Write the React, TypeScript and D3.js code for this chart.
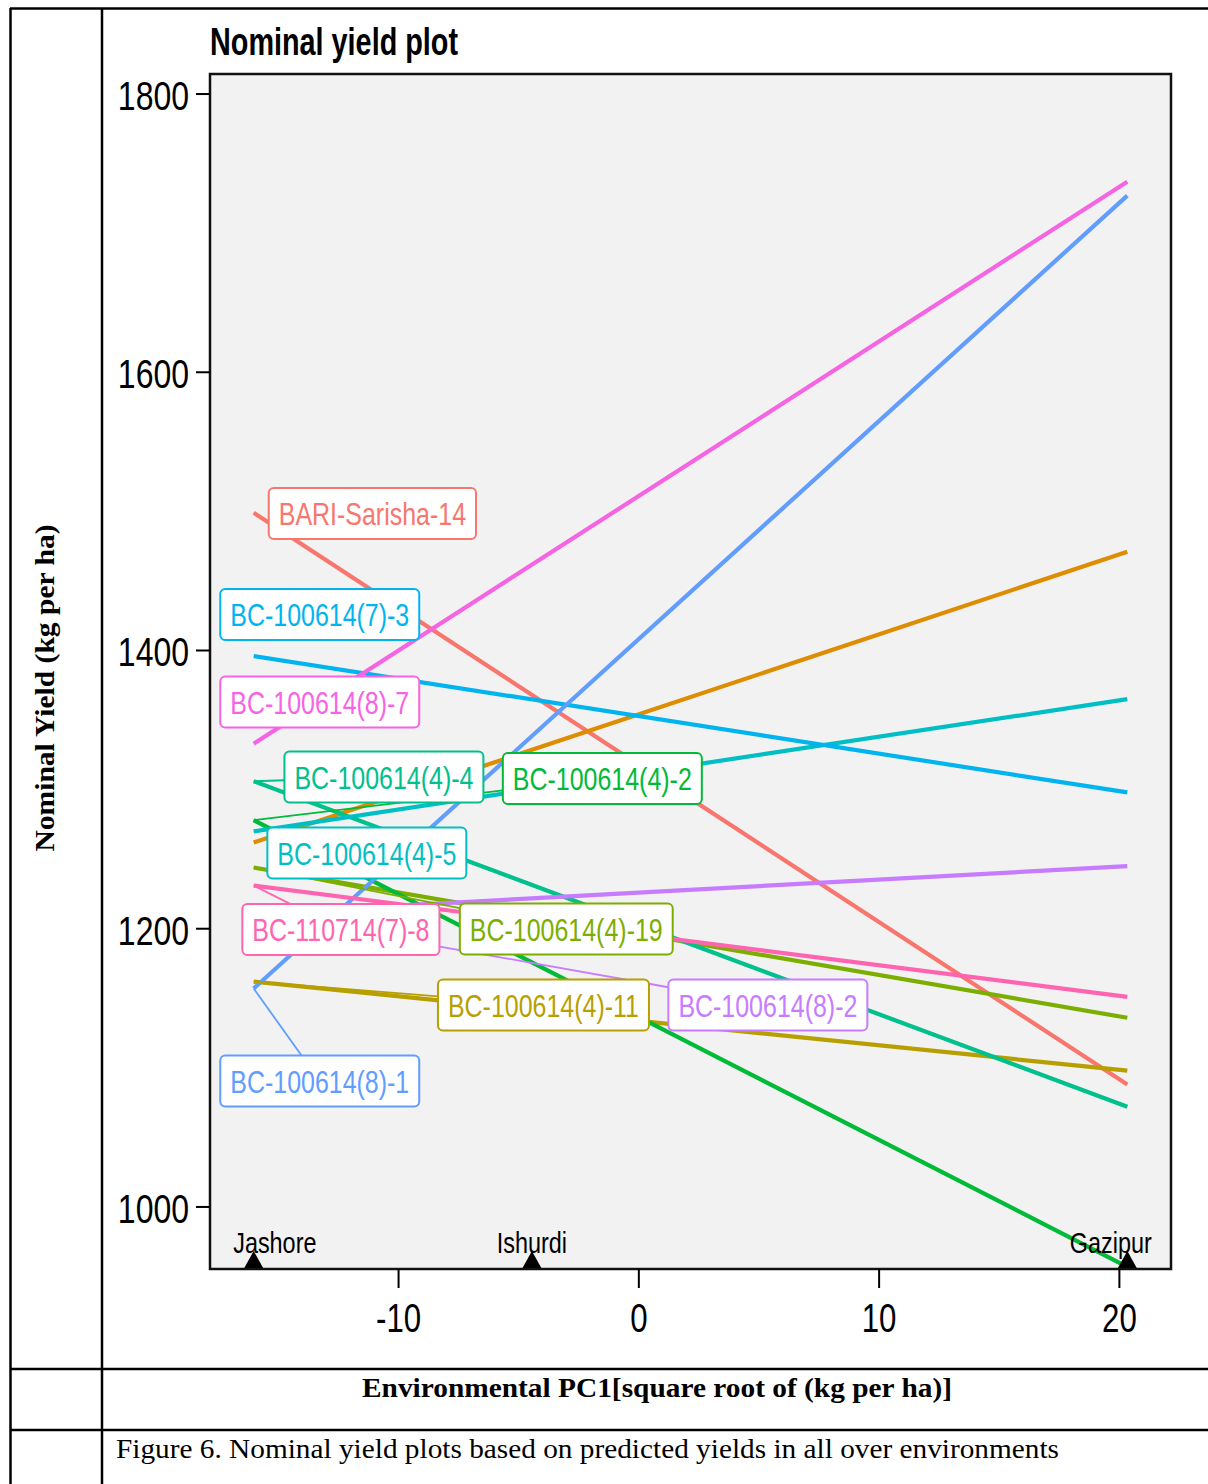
import React, { useEffect, useRef } from "react";
import * as d3 from "d3";

// ---- Data ----
const siteNames = ["Jashore", "Ishurdi", "Gazipur"];
const siteScores = [-16.03, -4.45, 20.33];

const genotypes = [
  "BARI-Sarisha-14",
  "BARI-Sarisha (unlabelled)",
  "BC-100614(4)-11",
  "BC-100614(4)-19",
  "BC-100614(4)-2",
  "BC-100614(4)-4",
  "BC-100614(4)-5",
  "BC-100614(7)-3",
  "BC-100614(8)-1",
  "BC-100614(8)-2",
  "BC-100614(8)-7",
  "BC-110714(7)-8",
];
// nominal yield at the lowest (Jashore) and highest (Gazipur) environment score
const yieldAtLow = [1499, 1262, 1162, 1244, 1278, 1306, 1270, 1396, 1157, 1211, 1333, 1231];
const yieldAtHigh = [1088, 1471, 1098, 1136, 957, 1072, 1365, 1298, 1727, 1245, 1737, 1151];
const showLabel = [true, false, true, true, true, true, true, true, true, true, true, true];

const yTicks = [1000, 1200, 1400, 1600, 1800];
const xTicks = [-10, 0, 10, 20];

// ---- Layout (label placement, in data units) ----
const labelX = [-11.09, 0, -3.97, -3.02, -1.52, -10.61, -11.32, -13.28, -13.28, 5.37, -13.28, -12.4];
const labelY = [1498.5, 0, 1145.2, 1199.8, 1308, 1309.1, 1254.5, 1425.9, 1090.6, 1145.2, 1363, 1199.5];
const siteLabelX = [-15.15, -4.45, 19.64];

const colors = [
  "#F8766D", "#DE8C00", "#B79F00", "#7CAE00", "#00BA38", "#00C08B",
  "#00BFC4", "#00B4F0", "#619CFF", "#C77CFF", "#F564E3", "#FF64B0",
];

const SANS = "'Liberation Sans', Arial, sans-serif";
const SERIF = "'Liberation Serif', 'Times New Roman', serif";
const NARROW = 0.78;

export default function App() {
  const ref = useRef<SVGSVGElement | null>(null);

  useEffect(() => {
    const svg = d3.select(ref.current);
    svg.selectAll("*").remove();
    const W = 1208, H = 1484;
    const P = { l: 210, r: 1171, t: 74, b: 1269 };

    // condensed sans text helper
    const ntext = (sel: any, str: string, size: number, opts: any = {}) => {
      const t = sel.append("text").text(str)
        .attr("font-family", SANS).attr("font-size", size)
        .attr("font-weight", opts.bold ? "bold" : "normal")
        .attr("fill", opts.fill || "#000");
      const w = (t.node() as SVGTextElement).getComputedTextLength();
      t.attr("textLength", opts.width || w * (opts.factor || NARROW)).attr("lengthAdjust", "spacingAndGlyphs");
      return t;
    };

    // table frame
    const frame = svg.append("g").attr("stroke", "#000").attr("stroke-width", 2.5).attr("fill", "none");
    frame.append("line").attr("x1", 10).attr("x2", W).attr("y1", 8.5).attr("y2", 8.5);
    frame.append("line").attr("x1", 10.5).attr("x2", 10.5).attr("y1", 8).attr("y2", H);
    frame.append("line").attr("x1", 102).attr("x2", 102).attr("y1", 8).attr("y2", H);
    frame.append("line").attr("x1", 10).attr("x2", W).attr("y1", 1369).attr("y2", 1369);
    frame.append("line").attr("x1", 10).attr("x2", W).attr("y1", 1430).attr("y2", 1430);

    const xmin = d3.min(siteScores)!, xmax = d3.max(siteScores)!;
    const pad = (xmax - xmin) * 0.05;
    const x = d3.scaleLinear().domain([xmin - pad, xmax + pad]).range([P.l, P.r]);
    const y = d3.scaleLinear().domain([955.4, 1814.4]).range([P.b, P.t]);

    // panel background
    svg.append("rect").attr("x", P.l).attr("y", P.t).attr("width", P.r - P.l).attr("height", P.b - P.t)
      .attr("fill", "#F2F2F2");

    svg.append("clipPath").attr("id", "clip").append("rect")
      .attr("x", P.l).attr("y", P.t).attr("width", P.r - P.l).attr("height", P.b - P.t);

    const plot = svg.append("g").attr("clip-path", "url(#clip)");

    // lines
    genotypes.forEach((g, i) => {
      plot.append("line")
        .attr("x1", x(xmin)).attr("y1", y(yieldAtLow[i]))
        .attr("x2", x(xmax)).attr("y2", y(yieldAtHigh[i]))
        .attr("stroke", colors[i]).attr("stroke-width", 4.2).attr("stroke-linecap", "butt");
    });

    // labels
    const labelsG = plot.append("g");
    const boxes: any[] = [];
    genotypes.forEach((g, i) => {
      if (!showLabel[i]) return;
      const t = labelsG.append("text").text(g)
        .attr("font-family", SANS).attr("font-size", 32)
        .attr("x", -1000).attr("y", -1000);
      const tw = (t.node() as SVGTextElement).getComputedTextLength() * NARROW;
      t.remove();
      const bw = tw + 20, bh = 51;
      const cx = x(labelX[i]), cy = y(labelY[i]);
      boxes.push({ i, g, cx, cy, bw, bh, tw });
    });
    // segments
    boxes.forEach((b) => {
      const px = x(xmin), py = y(yieldAtLow[b.i]);
      const x0 = b.cx - b.bw / 2, x1 = b.cx + b.bw / 2, y0 = b.cy - b.bh / 2, y1 = b.cy + b.bh / 2;
      const dx = Math.max(x0 - px, 0, px - x1), dy = Math.max(y0 - py, 0, py - y1);
      if (Math.hypot(dx, dy) < 18) return;
      const vx = b.cx - px, vy = b.cy - py;
      let tBest = 1;
      const cands: number[] = [];
      if (vx !== 0) { cands.push((x0 - px) / vx, (x1 - px) / vx); }
      if (vy !== 0) { cands.push((y0 - py) / vy, (y1 - py) / vy); }
      cands.forEach((t) => {
        if (t < 0 || t > 1) return;
        const ix = px + vx * t, iy = py + vy * t;
        if (ix >= x0 - 0.01 && ix <= x1 + 0.01 && iy >= y0 - 0.01 && iy <= y1 + 0.01 && t < tBest) tBest = t;
      });
      labelsG.append("line").attr("x1", px).attr("y1", py)
        .attr("x2", px + vx * tBest).attr("y2", py + vy * tBest)
        .attr("stroke", colors[b.i]).attr("stroke-width", 1.8);
    });
    boxes.forEach((b) => {
      labelsG.append("rect").attr("x", b.cx - b.bw / 2).attr("y", b.cy - b.bh / 2)
        .attr("width", b.bw).attr("height", b.bh).attr("rx", 5).attr("ry", 5)
        .attr("fill", "#fff").attr("stroke", colors[b.i]).attr("stroke-width", 2);
      labelsG.append("text").text(b.g)
        .attr("x", b.cx - b.tw / 2).attr("y", b.cy + 12)
        .attr("font-family", SANS).attr("font-size", 32)
        .attr("textLength", b.tw).attr("lengthAdjust", "spacingAndGlyphs")
        .attr("fill", colors[b.i]);
    });

    // site markers
    siteNames.forEach((s, i) => {
      const sx = x(siteScores[i]);
      plot.append("path")
        .attr("d", `M${sx - 10},${P.b} L${sx + 10},${P.b} L${sx},${P.b - 18} Z`)
        .attr("fill", "#000");
    });
    siteNames.forEach((s, i) => {
      const t = ntext(plot, s, 30);
      const w = +t.attr("textLength");
      t.attr("x", x(siteLabelX[i]) - w / 2).attr("y", P.b - 16);
    });

    // panel border
    svg.append("rect").attr("x", P.l).attr("y", P.t).attr("width", P.r - P.l).attr("height", P.b - P.t)
      .attr("fill", "none").attr("stroke", "#111").attr("stroke-width", 2.5);

    // axes
    yTicks.forEach((v) => {
      svg.append("line").attr("x1", P.l - 14).attr("x2", P.l).attr("y1", y(v)).attr("y2", y(v))
        .attr("stroke", "#000").attr("stroke-width", 2);
      const t = ntext(svg, String(v), 41);
      const w = +t.attr("textLength");
      t.attr("x", P.l - 21 - w).attr("y", y(v) + 16);
    });
    xTicks.forEach((v) => {
      svg.append("line").attr("x1", x(v)).attr("x2", x(v)).attr("y1", P.b).attr("y2", P.b + 19)
        .attr("stroke", "#000").attr("stroke-width", 2);
      const t = ntext(svg, String(v), 40);
      const w = +t.attr("textLength");
      t.attr("x", x(v) - w / 2).attr("y", 1332);
    });

    // title
    ntext(svg, "Nominal yield plot", 38, { bold: true, width: 248 }).attr("x", P.l).attr("y", 55);

    // axis titles
    svg.append("text").text("Nominal Yield (kg per ha)")
      .attr("transform", "translate(54,688) rotate(-90)").attr("text-anchor", "middle")
      .attr("font-family", SERIF).attr("font-size", 27).attr("font-weight", "bold")
      .attr("textLength", 327).attr("lengthAdjust", "spacingAndGlyphs").attr("fill", "#000");
    svg.append("text").text("Environmental PC1[square root of (kg per ha)]")
      .attr("x", 657).attr("y", 1397).attr("text-anchor", "middle")
      .attr("font-family", SERIF).attr("font-size", 28).attr("font-weight", "bold")
      .attr("textLength", 590).attr("lengthAdjust", "spacingAndGlyphs").attr("fill", "#000");
    svg.append("text").text("Figure 6. Nominal yield plots based on predicted yields in all over environments")
      .attr("x", 116).attr("y", 1458)
      .attr("font-family", SERIF).attr("font-size", 28)
      .attr("textLength", 943).attr("lengthAdjust", "spacingAndGlyphs").attr("fill", "#000");
  }, []);

  return (
    <div style={{ position: "absolute", left: 0, top: 0, background: "#fff" }}>
      <svg ref={ref} width={1208} height={1484} style={{ display: "block" }} />
    </div>
  );
}
